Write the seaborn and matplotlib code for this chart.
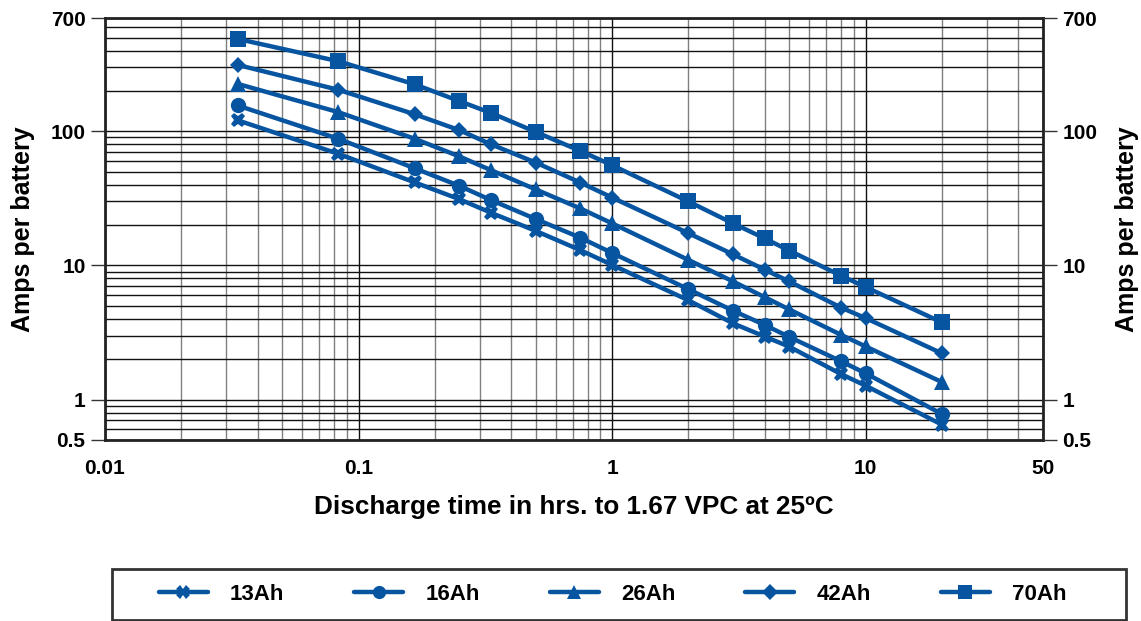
import pandas as pd
import matplotlib
matplotlib.use("Agg")
import matplotlib.pyplot as plt
import matplotlib.ticker as mticker
from matplotlib.patches import Rectangle
import seaborn as sns

# discharge times (hours): 2, 5, 10, 15, 20, 30, 45 min, then 1..20 h
horas = [2/60, 5/60, 10/60, 15/60, 20/60, 30/60, 45/60, 1, 2, 3, 4, 5, 8, 10, 20]

amps_13 = [121, 68, 41.6, 31.2, 24.7, 18.1, 13.0, 10.1, 5.5, 3.7, 2.95, 2.48, 1.55, 1.27, 0.65]
amps_16 = [156, 88, 53, 39.2, 30.7, 22.2, 16.1, 12.4, 6.65, 4.6, 3.6, 2.93, 1.93, 1.57, 0.78]
amps_26 = [226, 139, 88, 65, 51.3, 36.9, 26.6, 20.6, 11.0, 7.6, 5.8, 4.7, 3.04, 2.49, 1.35]
amps_42 = [313, 204, 134, 102, 80, 58.5, 41.5, 32.1, 17.4, 12.1, 9.3, 7.6, 4.85, 4.05, 2.21]
amps_70 = [489, 333, 224, 168, 137, 99, 71.4, 55.9, 30, 20.6, 15.9, 12.9, 8.4, 6.9, 3.76]

baterias = ['13Ah', '16Ah', '26Ah', '42Ah', '70Ah']
y_ticks = [0.5, 1, 10, 100, 700]
x_ticks = [0.01, 0.1, 1, 10, 50]

series = [amps_13, amps_16, amps_26, amps_42, amps_70]
linhas = []
for nome, valores in zip(baterias, series):
    for h, a in zip(horas, valores):
        linhas.append({'horas': h, 'amps': a, 'bateria': nome})
df = pd.DataFrame(linhas)

sns.set_theme(style="white")
plt.rcParams['font.family'] = ['Liberation Sans', 'DejaVu Sans']
plt.rcParams['font.weight'] = 'bold'
plt.rcParams['text.color'] = 'black'
plt.rcParams['axes.labelcolor'] = 'black'
plt.rcParams['xtick.labelcolor'] = 'black'
plt.rcParams['ytick.labelcolor'] = 'black'

azul = '#0754a0'
cores_map = {b: azul for b in baterias}
markers_map = dict(zip(baterias, ['X', 'o', '^', 'D', 's']))

fig = plt.figure(figsize=(11.41, 6.21), dpi=100)
ax = fig.add_axes([0.092, 0.2915, 0.822, 0.6795])

ax.set_xscale('log')
ax.set_yscale('log')
ax.set_xlim(0.01, 50)
ax.set_ylim(0.5, 700)

ax.grid(True, which='major', axis='x', color='#111111', linewidth=1.0)
ax.grid(True, which='minor', axis='x', color='#808080', linewidth=1.0)
ax.grid(True, which='both', axis='y', color='#111111', linewidth=1.0)
ax.set_axisbelow(True)

sns.lineplot(data=df, x='horas', y='amps', hue='bateria', style='bateria',
             hue_order=baterias, style_order=baterias, palette=cores_map,
             markers=markers_map, dashes=False, linewidth=3.2, markersize=11,
             markeredgewidth=0, ax=ax, legend='full')

for line in ax.lines:
    if line.get_marker() == 'D':
        line.set_markersize(8.5)
    if line.get_marker() == 'X':
        line.set_markersize(10.5)

handles, labels = ax.get_legend_handles_labels()
ax.get_legend().remove()

for h in handles:
    h.set_linewidth(3.2)
    h.set_markeredgewidth(0)
    h.set_markersize(9.5 if h.get_marker() != 'D' else 8)

fmt = mticker.FuncFormatter(lambda v, p: f'{v:g}')
ax.set_xticks(x_ticks)
ax.xaxis.set_major_formatter(fmt)
ax.xaxis.set_minor_locator(mticker.LogLocator(base=10, subs=range(2, 10), numticks=20))
ax.xaxis.set_minor_formatter(mticker.NullFormatter())
ax.set_yticks(y_ticks)
ax.yaxis.set_major_formatter(fmt)
ax.yaxis.set_minor_locator(mticker.LogLocator(base=10, subs=range(2, 10), numticks=20))
ax.yaxis.set_minor_formatter(mticker.NullFormatter())

ax.tick_params(axis='both', which='major', direction='out', length=10, width=1,
               color='#333333', labelsize=15, pad=4, labelcolor='black')
ax.tick_params(axis='both', which='minor', length=0)
for lab in ax.get_xticklabels() + ax.get_yticklabels():
    lab.set_fontweight('bold')

ax.set_xlabel('Discharge time in hrs. to 1.67 VPC at 25ºC', fontsize=18.8,
              fontweight='bold', color='black')
ax.xaxis.set_label_coords(0.5, -0.13)
ax.set_ylabel('Amps per battery', fontsize=18, fontweight='bold', color='black')
ax.yaxis.set_label_coords(-0.0746, 0.5)

for s in ax.spines.values():
    s.set_visible(True)
    s.set_color('#222222')
    s.set_linewidth(2)

ax2 = ax.twinx()
ax2.set_yscale('log')
ax2.set_ylim(0.5, 700)
ax2.set_yticks(y_ticks)
ax2.yaxis.set_major_formatter(fmt)
ax2.yaxis.set_minor_formatter(mticker.NullFormatter())
ax2.tick_params(axis='y', which='major', direction='out', length=10, width=1,
                color='#333333', labelsize=15, pad=4, labelcolor='black')
ax2.tick_params(axis='y', which='minor', length=0)
for lab in ax2.get_yticklabels():
    lab.set_fontweight('bold')
ax2.set_ylabel('Amps per battery', fontsize=18, fontweight='bold', color='black')
ax2.yaxis.set_label_coords(1.0768, 0.5)
for s in ax2.spines.values():
    s.set_visible(False)

# caixa da legenda
fig.add_artist(Rectangle((112 / 1141, 1 - 620 / 621), (1126 - 112) / 1141, 51 / 621,
                         transform=fig.transFigure, fill=False,
                         edgecolor='#333333', linewidth=2))

leg = fig.legend(handles, labels, loc='center', ncol=5,
                 bbox_to_anchor=(0.537, 1 - 594 / 621),
                 frameon=False, handlelength=2.2, handletextpad=1.0,
                 columnspacing=3.15, borderaxespad=0,
                 prop={'size': 16, 'weight': 'bold'})
for t in leg.get_texts():
    t.set_color('black')

plt.savefig('out.png', dpi=100)
